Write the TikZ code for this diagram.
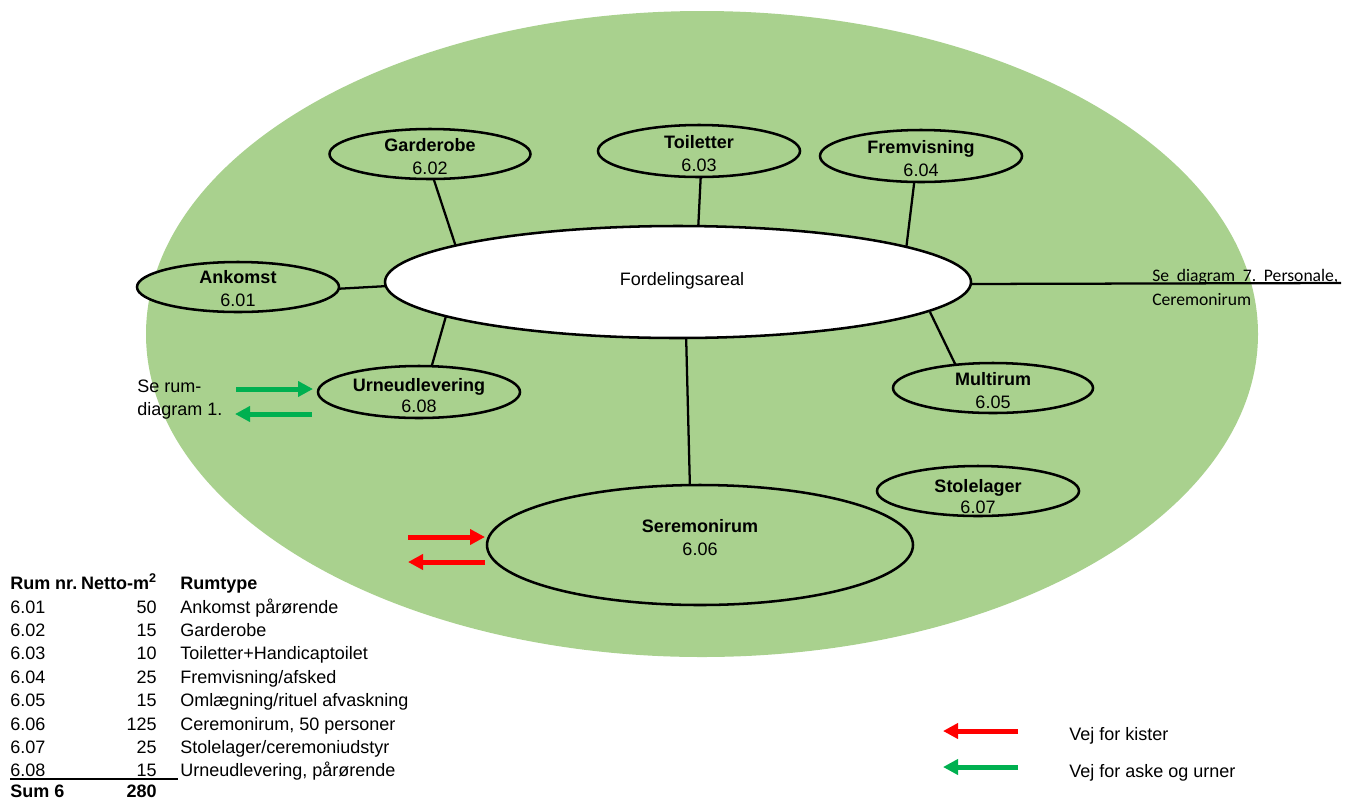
\documentclass[tikz,border=0pt]{standalone}
\usepackage{fontspec}
\setmainfont{Liberation Sans}
\newfontfamily\calfont{Carlito}
\usetikzlibrary{shapes.geometric,arrows.meta,calc}
\definecolor{bgreen}{HTML}{A9D18E}
\definecolor{agreen}{HTML}{00B050}
\definecolor{ared}{HTML}{FF0000}
\pgfdeclarelayer{areal}
\pgfdeclarelayer{links}
\pgfsetlayers{areal,links,main}
\tikzset{
  room/.style={ellipse,draw=black,fill=bgreen,line width=1.9pt,inner sep=0pt,outer sep=0pt},
  nm/.style={anchor=base,inner sep=0pt,font=\fontsize{13.5}{15}\selectfont\bfseries},
  nr/.style={anchor=base,inner sep=0pt,font=\fontsize{13.5}{15}\selectfont},
  txt/.style={anchor=base west,inner sep=0pt,font=\fontsize{13.5}{15}\selectfont},
  txte/.style={anchor=base east,inner sep=0pt,font=\fontsize{13.5}{15}\selectfont},
  txtb/.style={anchor=base west,inner sep=0pt,font=\fontsize{13.5}{15}\selectfont\bfseries},
  txteb/.style={anchor=base east,inner sep=0pt,font=\fontsize{13.5}{15}\selectfont\bfseries},
  cal/.style={anchor=base west,inner sep=0pt,font=\fontsize{13.2}{15}\calfont},
  conn/.style={line width=1.7pt,black},
  flow/.style={line width=3.75pt,-{Triangle[length=11.25pt,width=11.25pt]}},
}
\newcommand\mkroom[9]{%
  \node[room,minimum width=#4*0.75pt,minimum height=#5*0.75pt] (#1) at (#2,#3) {};
  \node[nm] (#1n) at (#2,#3+#8) {#6};
  \node[nr] (#1r) at (#2,#3+#9) {#7};
}
\begin{document}
\begin{tikzpicture}[x=0.75pt,y=-0.75pt]
\useasboundingbox (0,0) rectangle (1349,801);
% big area
\begin{pgfonlayer}{areal}
\node[ellipse,fill=bgreen,inner sep=0pt,minimum width=1112*0.75pt,minimum height=646*0.75pt] (area) at (702,334) {};
\end{pgfonlayer}
% central
\node[room,fill=white,minimum width=586*0.75pt,minimum height=112*0.75pt] (ford) at (678,282) {};
\node[nr] (fordt) at (682,285) {Fordelingsareal};
% rooms
\mkroom{gard}{430}{154}{201}{50}{Garderobe}{6.02}{-3}{20}
\mkroom{toil}{699}{151}{202}{52}{Toiletter}{6.03}{-3}{20}
\mkroom{frem}{921}{156}{202}{52}{Fremvisning}{6.04}{-3}{20}
\mkroom{ank}{238}{287}{202}{50}{Ankomst}{6.01}{-4}{19}
\mkroom{urne}{419}{392}{202}{52}{Urneudlevering}{6.08}{-1}{20}
\mkroom{multi}{993}{388}{200}{50}{Multirum}{6.05}{-3}{20}
\mkroom{stol}{978}{491}{202}{50}{Stolelager}{6.07}{1}{22}
\mkroom{sere}{700}{545}{426}{120}{Seremonirum}{6.06}{-12.5}{10.5}
% connectors (behind the ellipses)
\coordinate (se7) at (1341,283);
\begin{pgfonlayer}{links}
\draw[conn] ($(gard)+(2,20)$) -- ($(ford)+(-221,-32)$);
\draw[conn] ($(toil)+(2,20)$) -- ($(ford)+(20,-50)$);
\draw[conn] ($(frem)+(-6,20)$) -- ($(ford)+(228,-32)$);
\draw[conn] ($(ank)+(96,2)$) -- ($(ford)+(-290,4)$);
\draw[conn] ($(urne)+(11,-20)$) -- ($(ford)+(-232,34)$);
\draw[conn] ($(multi)+(-35,-18)$) -- ($(ford)+(252,30)$);
\draw[conn] ($(sere)+(-10,-55)$) -- ($(ford)+(8,50)$);
\draw[conn] ($(ford)+(285,2)$) -- (se7);
\end{pgfonlayer}
\node[cal] (se7a) at (1152,281) {Se\hspace{0.44em}diagram\hspace{0.44em}7.\hspace{0.44em}Personale,};
\node[cal] (se7b) at (1152,305) {Ceremonirum};
% green arrows to diagram 1
\node[txt] (sr1) at (137,392) {Se rum-};
\node[txt] (sr2) at (137,415) {diagram 1.};
\coordinate (ga1) at (236,389); \coordinate (ga2) at (313,389);
\coordinate (gb1) at (312,414); \coordinate (gb2) at (235,414);
\draw[flow,agreen] (ga1) -- (ga2);
\draw[flow,agreen] (gb1) -- (gb2);
% red arrows
\coordinate (ra1) at (408,537); \coordinate (ra2) at (485,537);
\coordinate (rb1) at (485,562); \coordinate (rb2) at (408,562);
\draw[flow,ared] (ra1) -- (ra2);
\draw[flow,ared] (rb1) -- (rb2);
% legend
\coordinate (la1) at (1018,731); \coordinate (la2) at (943,731);
\coordinate (lb1) at (1018,767); \coordinate (lb2) at (943,767);
\draw[flow,ared] (la1) -- (la2);
\draw[flow,agreen] (lb1) -- (lb2);
\node[txt] (leg1) at (1069,740) {Vej for kister};
\node[txt] (leg2) at (1069,777) {Vej for aske og urner};
% table
\node[txtb] (h1) at (10,589) {Rum nr.};
\node[txteb] (h2) at (157,589) {Netto-m\textsuperscript{2}};
\node[txtb] (h3) at (180,589) {Rumtype};
\foreach \y/\n/\a/\t [count=\i] in {613/6.01/50/Ankomst pårørende,636/6.02/15/Garderobe,659/6.03/10/Toiletter+Handicaptoilet,683/6.04/25/Fremvisning\slash afsked,706/6.05/15/Omlægning\slash rituel afvaskning,730/6.06/125/{Ceremonirum, 50 personer},753/6.07/25/Stolelager\slash ceremoniudstyr,776/6.08/15/{Urneudlevering, pårørende}}{
  \node[txt] (c1r\i) at (10,\y) {\n};
  \node[txte] (c2r\i) at (157,\y) {\a};
  \node[txt] (c3r\i) at (180,\y) {\t};
}
\coordinate (ul1) at (10,779); \coordinate (ul2) at (178,779);
\draw[line width=1.2pt] (ul1) -- (ul2);
\node[txtb] (s1) at (10,797) {Sum 6};
\node[txteb] (s2) at (157,797) {280};
\end{tikzpicture}
\end{document}
